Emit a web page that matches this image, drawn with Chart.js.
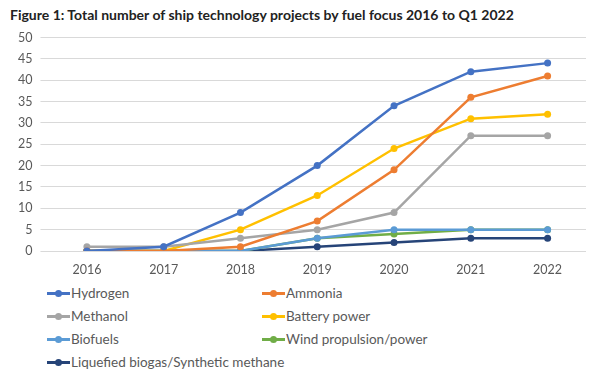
<!DOCTYPE html>
<html>
<head>
<meta charset="utf-8">
<script src="https://cdn.jsdelivr.net/npm/chart.js@4"></script>
<style>
  body { margin: 0; background: #fff; font-family: Lato, "Open Sans", sans-serif; }
  #wrap { position: relative; width: 614px; height: 386px; }
  h1 { position: absolute; left: 10px; top: 6px; margin: 0; font-size: 14px; font-weight: bold; color: #222; white-space: nowrap; }
  #box { position: absolute; left: 0; top: 22px; width: 600px; height: 258px; }
  #legend { position: absolute; left: 47px; top: 283px; width: 560px; display: grid; grid-template-columns: 215px 300px; row-gap: 3px; font-size: 13.5px; color: #595959; }
  .item { display: flex; align-items: center; height: 20px; white-space: nowrap; }
  .sw { position: relative; width: 23px; height: 3px; margin-right: 1px; flex: none; }
  .sw i { position: absolute; left: 8px; top: -2px; width: 7px; height: 7px; border-radius: 50%; }
</style>
</head>
<body>
<div id="wrap">
  <h1>Figure 1: Total number of ship technology projects by fuel focus 2016 to Q1 2022</h1>
  <div id="box"><canvas id="chart"></canvas></div>
  <div id="legend"></div>
</div>
<script>
// Data
const years = ["2016", "2017", "2018", "2019", "2020", "2021", "2022"];
const hydrogen = [0, 1, 9, 20, 34, 42, 44];
const ammonia = [0, 0, 1, 7, 19, 36, 41];
const methanol = [1, 1, 3, 5, 9, 27, 27];
const battery = [0, 0, 5, 13, 24, 31, 32];
const biofuels = [0, 0, 0, 3, 5, 5, 5];
const wind = [0, 0, 0, 3, 4, 5, 5];
const biogas = [0, 0, 0, 1, 2, 3, 3];

const series = [
    { label: "Hydrogen", data: hydrogen, color: "#4472c4" },
    { label: "Ammonia", data: ammonia, color: "#ed7d31" },
    { label: "Methanol", data: methanol, color: "#a5a5a5" },
    { label: "Battery power", data: battery, color: "#ffc000" },
    { label: "Biofuels", data: biofuels, color: "#5b9bd5" },
    { label: "Wind propulsion/power", data: wind, color: "#70ad47" },
    { label: "Liquefied biogas/Synthetic methane", data: biogas, color: "#264478" }
];

// legend
const legend = document.getElementById("legend");
legend.innerHTML = series.map(s =>
    `<div class="item"><span class="sw" style="background:${s.color}"><i style="background:${s.color}"></i></span>${s.label}</div>`
).join("");

const ctx = document.getElementById("chart");
let chart = new Chart(ctx, {
    type: 'line',
    data: {
        labels: years,
        datasets: series.map(s => ({
            label: s.label,
            data: s.data,
            borderColor: s.color,
            backgroundColor: s.color,
            borderWidth: 2.5,
            pointRadius: 3.5,
            pointBorderWidth: 0,
            tension: 0
        }))
    },
    options: {
        responsive: true,
        maintainAspectRatio: false,
        animation: { duration: 0 },
        layout: { padding: { left: 10, top: 2, right: 14 } },
        scales: {
            x: {
                offset: true,
                grid: { display: false },
                border: { display: false },
                ticks: { color: '#595959', font: { family: 'Lato', size: 12.5 } }
            },
            y: {
                min: 0,
                max: 50,
                ticks: { stepSize: 5, color: '#595959', font: { family: 'Lato', size: 12.5 }, padding: 8 },
                grid: { color: '#d9d9d9', lineWidth: 1 },
                border: { display: false }
            }
        },
        plugins: {
            legend: { display: false },
            tooltip: { enabled: false }
        }
    }
});
</script>
</body>
</html>
